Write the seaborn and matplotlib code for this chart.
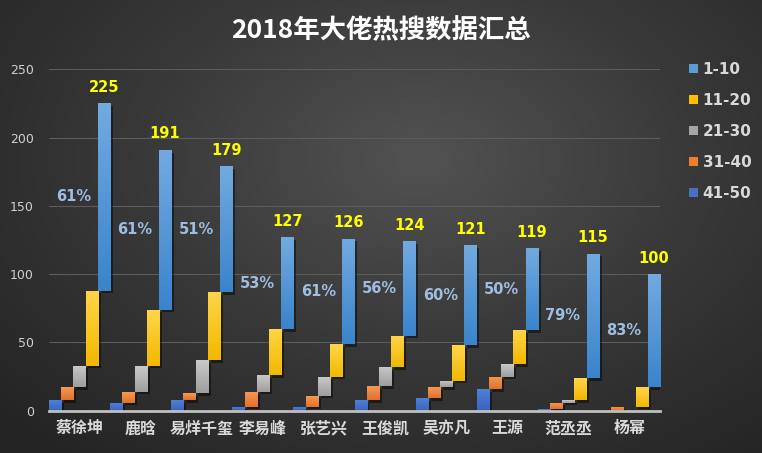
import numpy as np
import pandas as pd
import matplotlib
matplotlib.use("Agg")
import matplotlib.pyplot as plt
import seaborn as sns
from matplotlib.colors import LinearSegmentedColormap
from matplotlib.patches import Patch
import matplotlib.patheffects as pe

# ---------------- data ----------------
names = ['蔡徐坤', '鹿晗', '易烊千玺', '李易峰', '张艺兴', '王俊凯', '吴亦凡', '王源', '范丞丞', '杨幂']
r41_50 = [8, 6, 8, 3, 3, 8, 9, 16, 1, 0]
r31_40 = [9, 8, 5, 11, 8, 10, 8, 9, 5, 3]
r21_30 = [16, 19, 24, 12, 14, 14, 5, 9, 2, 0]
r11_20 = [55, 41, 50, 34, 24, 23, 26, 25, 16, 14]
r1_10 = [137, 117, 92, 67, 77, 69, 73, 60, 91, 83]
pct_labels = ['61%', '61%', '51%', '53%', '61%', '56%', '60%', '50%', '79%', '83%']
stack_order = ['41-50', '31-40', '21-30', '11-20', '1-10']
legend_order = ['1-10', '11-20', '21-30', '31-40', '41-50']
series = {'41-50': r41_50, '31-40': r31_40, '21-30': r21_30, '11-20': r11_20, '1-10': r1_10}

# (top colour, bottom colour) gradients, like the Excel fill
grad_colors = {
    '1-10': ('#72aae0', '#3a84cc'),
    '11-20': ('#ffd54a', '#f2b800'),
    '21-30': ('#c9c9c9', '#9e9e9e'),
    '31-40': ('#f49a55', '#e2702a'),
    '41-50': ('#4f80d6', '#3864bf'),
}
legend_colors = {'1-10': '#5b9bd5', '11-20': '#ffc000', '21-30': '#a5a5a5',
                 '31-40': '#ed7d31', '41-50': '#4472c4'}
solid = {k: v[1] for k, v in grad_colors.items()}

# build long table with floating bottoms
rows = []
for i, n in enumerate(names):
    bottom = 0
    for s in stack_order:
        v = series[s][i]
        rows.append({'name': n, 'range': s, 'value': v, 'bottom': bottom, 'top': bottom + v})
        bottom += v
df = pd.DataFrame(rows)
totals = df.groupby('name', sort=False)['value'].sum().reindex(names).tolist()

# ---------------- figure ----------------
sns.set_theme(style="dark")
plt.rcParams['font.family'] = ['DejaVu Sans', 'Noto Sans CJK SC']
W, H = 762, 453
fig = plt.figure(figsize=(W / 100, H / 100), dpi=100)

# radial dark background
bg = fig.add_axes([0, 0, 1, 1], zorder=-10)
yy, xx = np.mgrid[0:1:300j, 0:1:500j]
d = np.sqrt(((xx - 0.55) / 0.75) ** 2 + ((yy - 0.35) / 0.85) ** 2)
d = np.clip(d, 0, 1)
bgcmap = LinearSegmentedColormap.from_list('bg', ['#525252', '#383838', '#242424'])
bg.imshow(d, cmap=bgcmap, aspect='auto', extent=[0, 1, 1, 0], interpolation='bilinear')
bg.set_axis_off()

ax = fig.add_axes([49 / W, 1 - 410.7 / H, (660 - 49) / W, (410.7 - 69.3) / H])
ax.set_facecolor('none')

sns.barplot(data=df, x='name', y='top', hue='range', order=names, hue_order=stack_order,
            palette=solid, width=1.0, dodge=True, saturation=1, legend=False, ax=ax, zorder=3)

# make bars float: each bar spans bottom..top
for s, cont in zip(stack_order, ax.containers):
    sub = df[df['range'] == s].set_index('name').reindex(names)
    for patch, (_, r) in zip(cont.patches, sub.iterrows()):
        patch.set_y(r['bottom'])
        patch.set_height(r['value'])
        patch.set_linewidth(0)
        patch.set_path_effects([pe.SimplePatchShadow(offset=(2, -2), shadow_rgbFace='black', alpha=0.45),
                                pe.Normal()])
        if r['value'] > 0:
            top_c, bot_c = grad_colors[s]
            cmap = LinearSegmentedColormap.from_list('g', [bot_c, top_c])
            g = np.linspace(0, 1, 64).reshape(-1, 1)
            x0, w = patch.get_x(), patch.get_width()
            im = ax.imshow(g, extent=[x0, x0 + w, r['bottom'], r['top']], origin='lower',
                           aspect='auto', cmap=cmap, zorder=3.5, interpolation='bilinear')
            im.set_clip_path(patch)

top_cont = ax.containers[stack_order.index('1-10')]
for i, patch in enumerate(top_cont.patches):
    xc = patch.get_x() + patch.get_width() / 2
    ytop = patch.get_y() + patch.get_height()
    ax.annotate(str(totals[i]), (xc, ytop), xytext=(0, 11.5), textcoords='offset points',
                ha='center', va='center', color='#ffff00', fontsize=10.5, fontweight='bold', zorder=6)
    ymid = patch.get_y() + patch.get_height() / 2
    ax.annotate(pct_labels[i], (patch.get_x(), ymid), xytext=(-4.5, 0), textcoords='offset points',
                ha='right', va='center', color='#9fbde0', fontsize=10.5, fontweight='bold', zorder=6)

ax.set_xlim(-0.5, 9.5)
ax.set_ylim(0, 250)
ax.set_yticks([0, 50, 100, 150, 200, 250])
ax.set_xlabel('')
ax.set_ylabel('')
ax.grid(axis='y', color='#5c5c5c', linewidth=0.8, zorder=0)
ax.grid(axis='x', visible=False)
for sp in ['top', 'right', 'left']:
    ax.spines[sp].set_visible(False)
ax.spines['bottom'].set_color('#bfbfbf')
ax.spines['bottom'].set_linewidth(2)
ax.spines['bottom'].set_zorder(7)
ax.tick_params(axis='y', length=0, pad=11, labelcolor='#d0d0d0', labelsize=9)
ax.tick_params(axis='x', length=0, pad=7, labelcolor='#d9d9d9')
for lab in ax.get_xticklabels():
    lab.set_fontfamily(['Noto Sans CJK SC', 'DejaVu Sans'])
    lab.set_fontweight('bold')
    lab.set_fontsize(11.5)

fig.text(0.5, 1 - 31 / H, '2018年大佬热搜数据汇总', ha='center', va='center', color='white',
         fontsize=19, fontweight='bold', family=['Noto Sans CJK SC', 'DejaVu Sans'])

handles = [Patch(facecolor=legend_colors[s], edgecolor='none', label=s) for s in legend_order]
leg = fig.legend(handles=handles, loc='upper left', bbox_to_anchor=(675 / W, 1 - 48 / H),
                 frameon=False, handlelength=0.6, handleheight=0.6, handletextpad=0.3,
                 labelspacing=1.05, prop={'weight': 'bold', 'size': 11})
for t in leg.get_texts():
    t.set_color('#d9d9d9')

fig.savefig('out.png', dpi=100)
